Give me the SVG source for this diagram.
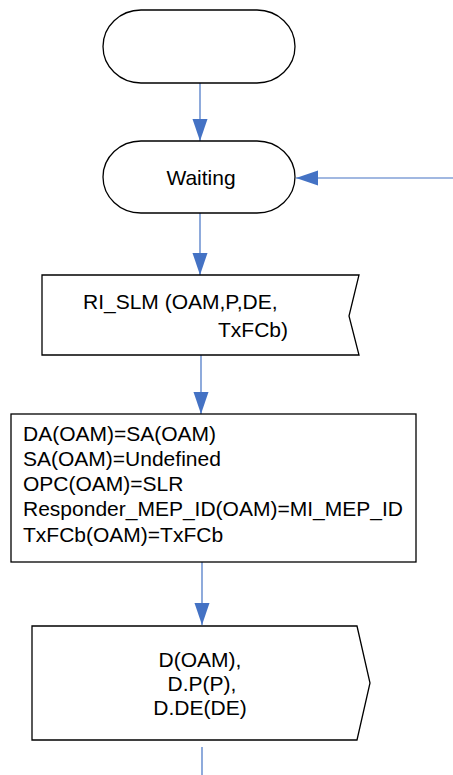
<svg xmlns="http://www.w3.org/2000/svg" width="453" height="775" viewBox="0 0 453 775">
<style>
.shape{fill:#fff;stroke:#000;stroke-width:1.3}
.t{font-family:"Liberation Sans",Arial,sans-serif;font-size:21px;fill:#000}
.m{text-anchor:middle}
.conn{stroke:#4472C4;stroke-width:1.2;fill:none}
</style>
<defs>
<marker id="ah" markerUnits="userSpaceOnUse" markerWidth="22" markerHeight="16" refX="22" refY="7.5" orient="auto" viewBox="0 0 22 15">
<path d="M0,0 L22,7.5 L0,15 z" fill="#4472C4"/>
</marker>
</defs>
<g id="connectors">
<line class="conn" x1="200" y1="83" x2="200" y2="141" marker-end="url(#ah)"/>
<line class="conn" x1="453" y1="178" x2="296" y2="178" marker-end="url(#ah)"/>
<line class="conn" x1="200" y1="213" x2="200" y2="275" marker-end="url(#ah)"/>
<line class="conn" x1="201" y1="355" x2="201" y2="414" marker-end="url(#ah)"/>
<line class="conn" x1="202" y1="562" x2="202" y2="625" marker-end="url(#ah)"/>
<line class="conn" x1="202" y1="747" x2="202" y2="775"/>
</g>
<g id="start">
<rect class="shape" x="103" y="10" width="192" height="73" rx="38" ry="36.5"/>
</g>
<g id="waiting">
<rect class="shape" x="103" y="141" width="192" height="72" rx="38" ry="36"/>
<text class="t m" x="201" y="185">Waiting</text>
</g>
<g id="ri_slm">
<path class="shape" d="M42,275 L359,275 L349,316 L359,355 L42,355 Z"/>
<text class="t" x="83" y="309">RI_SLM (OAM,P,DE,</text>
<text class="t" x="218" y="337">TxFCb)</text>
</g>
<g id="assign">
<rect class="shape" x="11" y="414" width="405" height="148"/>
<text class="t" x="23" y="441">DA(OAM)=SA(OAM)</text>
<text class="t" x="23" y="466">SA(OAM)=Undefined</text>
<text class="t" x="23" y="491">OPC(OAM)=SLR</text>
<text class="t" x="23" y="516">Responder_MEP_ID(OAM)=MI_MEP_ID</text>
<text class="t" x="23" y="542">TxFCb(OAM)=TxFCb</text>
</g>
<g id="send">
<path class="shape" d="M32,626 L357,626 L370,683 L357,740 L32,740 Z"/>
<text class="t m" x="200" y="667">D(OAM),</text>
<text class="t m" x="202" y="691">D.P(P),</text>
<text class="t m" x="200" y="715">D.DE(DE)</text>
</g>
</svg>
